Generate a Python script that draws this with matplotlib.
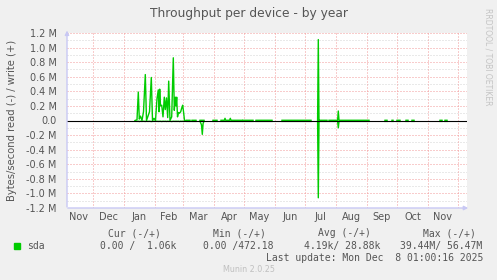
import numpy as np
import pandas as pd
import matplotlib
matplotlib.use("Agg")
import matplotlib.pyplot as plt
import matplotlib.ticker as mticker
from matplotlib.patches import Rectangle

# # Data (rates in MB/s, x = days since 2025-01-01)
burst_days = [11, 13, 14.3, 15.3, 16.5, 18, 19.5, 21.3, 22.5, 24,
              25.5, 27.3, 28.5, 30, 31.5, 33, 34.3, 35, 35.7, 36.5,
              37.7, 39, 40.3, 41.3, 42.5, 43.7, 44.7, 46, 47.7, 49.3,
              50.3, 51.3, 52, 52.7, 53.5, 54.5, 55.5, 56.7, 57.7, 58.7,
              59.7, 60.5, 62]
burst_write = [0.0, 0.01, 0.39, 0.02, 0.06, 0.0, 0.12, 0.63, 0.0, 0.06,
               0.12, 0.59, 0.0, 0.03, 0.0, 0.30, 0.42, 0.12, 0.43, 0.20,
               0.21, 0.05, 0.32, 0.15, 0.31, 0.04, 0.54, 0.0, 0.05, 0.86,
               0.14, 0.32, 0.20, 0.32, 0.05, 0.11, 0.10, 0.12, 0.17, 0.21,
               0.10, 0.0, 0.0]
burst_read = [0.01, 0.012, 0.01, 0.014, 0.01, 0.012, 0.01, 0.013, 0.01, 0.012,
              0.01, 0.014, 0.012, 0.01, 0.012, 0.01, 0.013, 0.01, 0.012, 0.01,
              0.014, 0.01, 0.012, 0.01, 0.013, 0.01, 0.012, 0.01, 0.014, 0.01,
              0.012, 0.01, 0.013, 0.01, 0.012, 0.01, 0.014, 0.01, 0.012, 0.01,
              0.013, 0.01, 0.01]

mar_days = [76, 77.5, 78.3, 79.1, 80]
mar_write = [0.003, 0.003, 0.003, 0.003, 0.003]
mar_read = [0.01, 0.06, 0.19, 0.04, 0.01]

apr_days = [97, 100.3, 101, 101.7, 105.6, 106.3, 107, 118]
apr_write = [0.003, 0.003, 0.03, 0.003, 0.003, 0.03, 0.003, 0.003]
apr_read = [0.012, 0.012, 0.012, 0.012, 0.012, 0.012, 0.012, 0.012]

jul_days = [193.6, 194.3, 195.0]
jul_write = [0.003, 1.11, 0.003]
jul_read = [0.012, 1.06, 0.012]

aug_days = [205, 213.6, 214.3, 215, 245]
aug_write = [0.003, 0.003, 0.13, 0.003, 0.003]
aug_read = [0.012, 0.012, 0.10, 0.012, 0.012]

# quiet periods: flat, near-zero traffic
quiet_spans = [(63, 66), (68, 72), (89, 93), (119, 129), (132, 148),
               (158, 187), (196, 203), (261, 263), (268, 269), (273, 276),
               (282, 284), (288, 290), (316, 318), (321, 323)]
quiet_write = 0.003
quiet_read = 0.012

month_starts = pd.date_range("2024-11-01", "2025-12-01", freq="MS")
base = pd.Timestamp("2025-01-01")

# # Build series with gaps (NaN breaks the line)
segments = [(burst_days, burst_write, burst_read),
            (mar_days, mar_write, mar_read),
            (apr_days, apr_write, apr_read),
            (jul_days, jul_write, jul_read),
            (aug_days, aug_write, aug_read)]
for a, b in quiet_spans:
    segments.append(([a, b], [quiet_write, quiet_write], [quiet_read, quiet_read]))
segments.sort(key=lambda s: s[0][0])

xs, ws, rs = [], [], []
for d, w, r in segments:
    xs += list(d) + [np.nan]
    ws += list(w) + [np.nan]
    rs += list(r) + [np.nan]
xs = np.array(xs)
ws = np.array(ws) * 1e6
rs = np.array(rs) * 1e6

# # Figure
W, H = 497, 280
fig = plt.figure(figsize=(W / 100, H / 100), dpi=100, facecolor="#f0f0f0")
ax = fig.add_axes([67 / W, 72 / H, 400 / W, 175 / H])
ax.set_facecolor("white")

txt = "#555555"
green = "#00cc00"
dots = (0, (1, 2))

# grid
for v in np.arange(-1.1e6, 1.2e6, 0.2e6):
    ax.axhline(v, color="#d4d4d4", lw=0.72, ls=dots, zorder=1)
for v in np.arange(-1.2e6, 1.21e6, 0.2e6):
    ax.axhline(v, color="#f29a9a", lw=0.72, ls=dots, zorder=1)
starts = (month_starts - base).days.values
for s in starts:
    ax.axvline(s, color="#f29a9a", lw=0.72, ls=dots, zorder=1)

# month labels centred in each month (last one is December, not shown)
mids = [(a + b) / 2 for a, b in zip(starts[:-1], starts[1:])]
ax.set_xticks(mids)
ax.set_xticklabels([m.strftime("%b") for m in month_starts[:-1]])
ax.tick_params(axis="x", length=0, pad=3, labelsize=7, labelcolor=txt)

ax.yaxis.set_major_locator(mticker.MultipleLocator(0.2e6))


def fmt(v, _):
    if abs(v) < 1:
        return "0.0"
    return f"{v / 1e6:.1f} M"


ax.yaxis.set_major_formatter(mticker.FuncFormatter(fmt))
ax.tick_params(axis="y", which="both", length=0, pad=7.5, labelsize=7, labelcolor=txt)

# data
ax.plot(xs, ws, color=green, lw=1.0, zorder=2)
ax.plot(xs, -rs, color=green, lw=1.0, zorder=2)
ax.axhline(0, color="black", lw=0.8, zorder=3)

ax.set_xlim(-57, 343)
ax.set_ylim(-1.2e6, 1.2e6)

for sp in ax.spines.values():
    sp.set_visible(False)

# axis arrows
arrow = dict(arrowstyle="-|>", color="#c8c8f4", lw=1.0, mutation_scale=6)
ax.annotate("", xy=(0, 1.03), xytext=(0, -0.01), xycoords="axes fraction",
            arrowprops=arrow, annotation_clip=False)
ax.annotate("", xy=(1.01, 0), xytext=(-0.005, 0), xycoords="axes fraction",
            arrowprops=arrow, annotation_clip=False)

# texts
fig.text(248.5 / W, 1 - 13.5 / H, "Throughput per device - by year",
         ha="center", va="center", fontsize=8.8, color=txt)
fig.text(12 / W, 1 - 120 / H, "Bytes/second read (-) / write (+)",
         rotation=90, ha="center", va="center", fontsize=7.2, color=txt)
fig.text(488 / W, 1 - 57 / H, "RRDTOOL / TOBI OETIKER", rotation=270,
         ha="center", va="center", fontsize=5.5, color="#c4c4c4")

# legend
fig.add_artist(Rectangle((14 / W, 1 - 248.5 / H), 6 / W, 6 / H,
                         transform=fig.transFigure, color=green))
mono = dict(family="DejaVu Sans Mono", fontsize=7, color=txt, va="center")
fig.text(27 / W, 1 - 246 / H, "sda", ha="left", **mono)
heads = ["Cur (-/+)", "Min (-/+)", "Avg (-/+)", "Max (-/+)"]
head_x = [160.7, 266, 371, 476]
vals = ["0.00 /  1.06k", "0.00 /472.18", "4.19k/ 28.88k", "39.44M/ 56.47M"]
val_x = [176, 273.3, 380.7, 482.7]
for h, hx in zip(heads, head_x):
    fig.text(hx / W, 1 - 233 / H, h, ha="right", **mono)
for v, vx in zip(vals, val_x):
    fig.text(vx / W, 1 - 245.7 / H, v, ha="right", **mono)
fig.text(483.3 / W, 1 - 257.7 / H, "Last update: Mon Dec  8 01:00:16 2025",
         ha="right", **mono)
fig.text(249 / W, 1 - 269 / H, "Munin 2.0.25", ha="center", va="center",
         fontsize=5.8, color="#c0c0c0")

fig.savefig("out.png", dpi=100, facecolor=fig.get_facecolor())
